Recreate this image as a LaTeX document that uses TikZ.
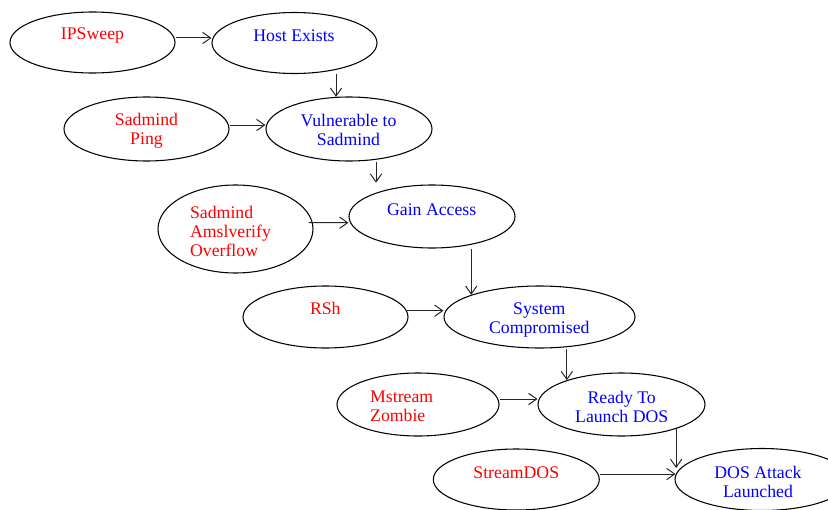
\documentclass[tikz,border=0pt]{standalone}
\usepackage{fontspec}
\setmainfont{Liberation Serif}
\usetikzlibrary{arrows.meta,shapes.geometric}
\tikzset{
  ell/.style={draw=black, line width=0.8pt, ellipse, inner sep=0pt},
  cause/.style={text=red, inner sep=0pt, align=center, font=\fontsize{13.3}{14.3}\selectfont},
  effect/.style={text=blue, inner sep=0pt, align=center, font=\fontsize{13.3}{14.3}\selectfont},
  arr/.style={line width=0.75pt, draw=black!85, -{Straight Barb[length=6pt,width=8.5pt]}}
}
\begin{document}
\begin{tikzpicture}[x=0.75pt, y=-0.75pt]
\useasboundingbox (0,0) rectangle (828,510);

% ellipse outlines (centre and size given in px)
\node[ell, minimum width=123.75pt, minimum height=45.75pt] (ips)   at (92.5,42.5) {};
\node[ell, minimum width=123.75pt, minimum height=45.75pt] (host)  at (294.5,43) {};
\node[ell, minimum width=123.75pt, minimum height=48pt]    (sping) at (146.5,129) {};
\node[ell, minimum width=124.5pt,  minimum height=48pt]    (vuln)  at (349,129) {};
\node[ell, minimum width=116.25pt, minimum height=66pt]    (samsl) at (235.5,229) {};
\node[ell, minimum width=124.5pt,  minimum height=47.25pt] (gain)  at (432,216.5) {};
\node[ell, minimum width=123.75pt, minimum height=46.5pt]  (rsh)   at (325.5,317) {};
\node[ell, minimum width=143.25pt, minimum height=46.5pt]  (sys)   at (539.5,317) {};
\node[ell, minimum width=121.5pt,  minimum height=47.25pt] (mzom)  at (418,404.5) {};
\node[ell, minimum width=125.25pt, minimum height=47.25pt] (ready) at (621.5,404.5) {};
\node[ell, minimum width=124.5pt,  minimum height=45.75pt] (sdos)  at (516.3,479.5) {};
\node[ell, minimum width=130.5pt,  minimum height=46.5pt]  (dosa)  at (762,479.5) {};

% labels
\node[cause]  (ipsT)   at (92.5,35.5)  {IPSweep};
\node[effect] (hostT)  at (294,35.5)   {Host Exists};
\node[cause]  (spingT) at (146.5,131)  {Sadmind\\Ping};
\node[effect] (vulnT)  at (348.5,130)  {Vulnerable to\\Sadmind};
\node[cause, align=left] (samslT) at (230.5,231) {Sadmind\\Amslverify\\Overflow};
\node[effect] (gainT)  at (431.7,209.5) {Gain Access};
\node[cause]  (rshT)   at (325.3,308.5) {RSh};
\node[effect] (sysT)   at (539.3,320)  {System\\Compromised};
\node[cause, align=left] (mzomT) at (401.7,406.5) {Mstream\\Zombie};
\node[effect] (readyT) at (621.7,407)  {Ready To\\Launch DOS};
\node[cause]  (sdosT)  at (516.3,472.5) {StreamDOS};
\node[effect] (dosaT)  at (758,482)    {DOS Attack\\Launched};

% horizontal connectors
\draw[arr] ([shift={(0,-4.5)}]ips.east)    -- ([shift={(0,-5)}]host.west);
\draw[arr] ([shift={(0,-4)}]sping.east)    -- ([shift={(0,-4)}]vuln.west);
\draw[arr] ([shift={(-5,-6.3)}]samsl.east) -- ([shift={(0,6.2)}]gain.west);
\draw[arr] ([shift={(-3,-6.3)}]rsh.east)   -- ([shift={(0,-6.3)}]sys.west);
\draw[arr] ([shift={(0,-5.5)}]mzom.east)   -- ([shift={(0,-5.5)}]ready.west);
\draw[arr] ([shift={(0,-5.5)}]sdos.east)   -- ([shift={(1,-5.5)}]dosa.west);

% vertical connectors
\draw[arr] (vuln.112 |- host.south)  -- (vuln.112);
\draw[arr] (gain.157 |- vuln.south)  -- ([shift={(0,-10)}]gain.157);
\draw[arr] (sys.162 |- gain.south)   -- (sys.162);
\draw[arr] (ready.156 |- sys.south)  -- (ready.156);
\draw[arr] (ready.-24)               -- (ready.-24 |- dosa.172);
\end{tikzpicture}
\end{document}
